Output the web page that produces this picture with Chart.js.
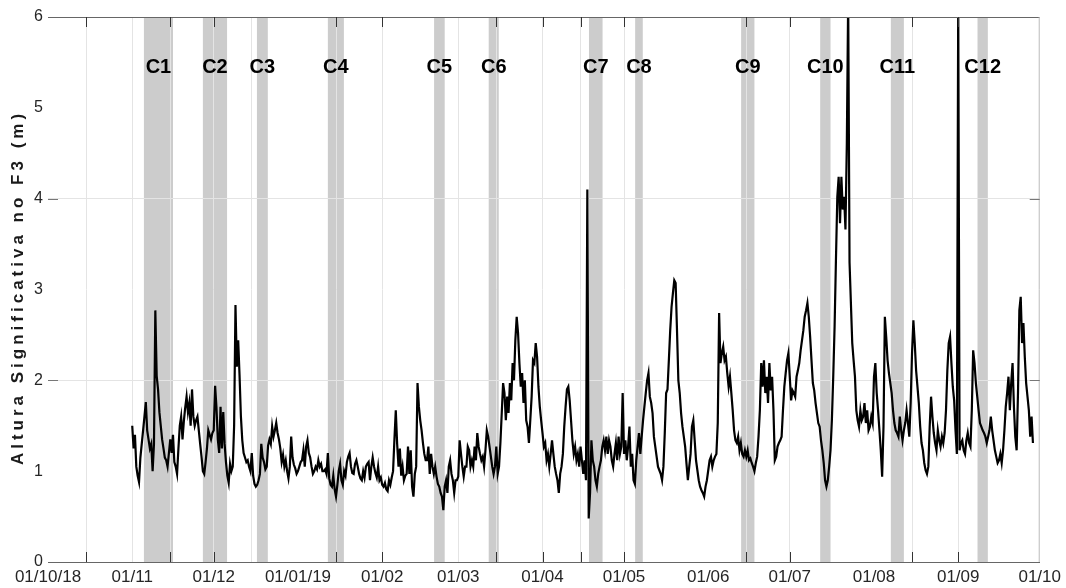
<!DOCTYPE html>
<html>
<head>
<meta charset="utf-8">
<script src="https://cdn.jsdelivr.net/npm/chart.js@4.4.1/dist/chart.umd.min.js"></script>
<style>
  html, body { margin: 0; padding: 0; background: #fff; }
  #chart { display: block; background: #fff; }
</style>
</head>
<body>
<canvas id="chart" width="1066" height="588"></canvas>
<script>
// x axis = days since 01/10/2018
const monthDays = [0, 31, 61, 92, 123, 151, 182, 212, 243, 273, 304, 335, 365];
const monthLabels = ['01/10/18', '01/11', '01/12', '01/01/19', '01/02', '01/03', '01/04', '01/05', '01/06', '01/07', '01/08', '01/09', '01/10'];
const gridDays = [14, 31, 45, 61, 75, 106, 123, 151, 165, 182, 196, 212, 257, 273, 318, 335];
const tickDays = [14, 45, 61, 106, 123, 165, 182, 196, 212, 257, 273, 318, 335];
const yTicks = [0, 1, 2, 3, 4, 5, 6];
const yGrid = [2, 4];
const yTitle = 'Altura Significativa no F3 (m)';

// shaded periods C1..C12 (days)
const bandLabels = ['C1', 'C2', 'C3', 'C4', 'C5', 'C6', 'C7', 'C8', 'C9', 'C10', 'C11', 'C12'];
const bandStart = [35.3, 57.0, 76.9, 103.0, 142.1, 162.2, 199.1, 216.1, 255.1, 284.2, 310.2, 342.1];
const bandEnd = [46.0, 65.9, 80.9, 108.9, 146.0, 165.9, 204.1, 218.9, 260.0, 288.0, 315.0, 345.9];

// Hs (m), one value every 12 h, per month
const nov = [1.5, 1.25, 1.4, 1.05, 0.95, 0.88, 1.15, 1.3, 1.45, 1.6,
  1.76, 1.45, 1.35, 1.25, 1.3, 1.0, 1.3, 2.77, 2.05, 1.9,
  1.65, 1.5, 1.35, 1.25, 1.15, 1.12, 1.05, 1.2, 1.35, 1.2,
  1.4, 1.1, 1.05, 0.97, 1.25, 1.5, 1.6, 1.35, 1.55, 1.7,
  1.82, 1.65, 1.75, 1.5, 1.9, 1.6, 1.5, 1.56, 1.6, 1.45,
  1.3, 1.16, 1.0, 0.97, 1.1, 1.25, 1.45, 1.4, 1.35, 1.42];
const dec = [1.45, 1.94, 1.7, 1.35, 1.2, 1.71, 1.25, 1.65, 1.3, 1.1,
  0.95, 0.87, 1.08, 1.0, 1.05, 1.5, 2.83, 2.15, 2.44, 2.05,
  1.6, 1.34, 1.2, 1.15, 1.1, 1.12, 1.05, 1.0, 1.2, 0.95,
  0.86, 0.83, 0.85, 0.9, 0.97, 1.3, 1.15, 1.1, 1.02, 1.05,
  1.28, 1.35, 1.3, 1.49, 1.38, 1.45, 1.53, 1.42, 1.35, 1.25,
  1.1, 1.18, 1.05, 1.12, 1.0, 0.92, 1.05, 1.38, 1.15, 1.07,
  1.03, 0.97];
const jan = [1.0, 1.05, 1.1, 1.12, 1.23, 1.05, 1.27, 1.34, 1.2, 1.15,
  1.05, 0.97, 1.0, 1.05, 1.02, 1.12, 1.05, 1.08, 1.0, 1.0,
  1.02, 0.97, 1.2, 0.92, 0.85, 0.83, 0.95, 0.8, 0.72, 0.85,
  1.0, 1.08, 0.9, 0.85, 1.0, 0.95, 1.1, 1.16, 1.2, 1.05,
  0.98, 0.97, 1.08, 1.12, 1.05, 0.97, 0.92, 0.9, 1.0, 0.93,
  1.05, 1.08, 1.1, 0.9, 1.05, 1.15, 1.05, 0.98, 0.93, 1.05,
  0.9, 0.93];
const feb = [0.85, 0.83, 0.87, 0.8, 0.78, 0.9, 0.85, 0.93, 1.0, 1.35,
  1.67, 1.3, 1.05, 1.25, 0.95, 1.05, 0.9, 0.95, 0.97, 1.27,
  0.97, 1.23, 0.83, 0.72, 0.97, 1.05, 1.97, 1.71, 1.56, 1.45,
  1.31, 1.19, 1.12, 1.12, 1.27, 0.97, 1.19, 1.05, 0.97, 1.05,
  0.94, 0.86, 0.83, 0.76, 0.72, 0.57, 0.83, 0.9, 0.76, 1.05,
  1.12, 0.97, 0.9, 0.76, 0.9, 0.9];
const mar = [0.94, 1.34, 1.19, 1.05, 0.94, 1.05, 1.05, 1.27, 1.23, 1.05,
  1.12, 1.05, 1.27, 1.12, 1.42, 1.27, 1.19, 1.12, 1.16, 1.05,
  1.23, 1.45, 1.38, 1.27, 1.16, 1.05, 0.97, 1.05, 1.27, 0.97,
  1.05, 1.31, 1.64, 1.97, 1.86, 1.56, 1.82, 1.64, 1.97, 1.78,
  2.19, 2.0, 2.44, 2.7, 2.52, 2.19, 1.93, 2.08, 1.75, 2.0,
  1.56, 1.49, 1.31, 1.56, 1.82, 2.22, 2.19, 2.41, 2.26, 1.93,
  1.71, 1.56];
const apr = [1.42, 1.27, 1.31, 1.12, 1.19, 1.05, 1.19, 1.34, 1.19, 1.05,
  0.97, 0.9, 0.76, 0.97, 1.05, 1.19, 1.49, 1.71, 1.9, 1.93,
  1.78, 1.56, 1.34, 1.19, 1.27, 1.12, 1.19, 1.05, 1.27, 1.12,
  0.97, 1.12, 0.9, 4.1, 0.48, 0.76, 1.34, 1.12, 1.05, 0.9,
  0.83, 0.97, 1.05, 1.12, 1.27, 1.34, 1.23, 1.38, 1.19, 1.34,
  1.27, 1.12, 1.05, 1.19, 1.31, 1.12, 1.38, 1.19, 1.27, 1.86];
const may = [1.19, 1.34, 1.12, 1.27, 1.49, 1.05, 1.19, 0.9, 0.86, 1.12,
  1.27, 1.42, 1.19, 1.38, 1.56, 1.71, 1.86, 2.0, 2.08, 1.82,
  1.75, 1.64, 1.38, 1.27, 1.16, 1.05, 1.01, 0.97, 0.9, 1.05,
  1.42, 1.86, 1.9, 2.22, 2.55, 2.81, 2.96, 3.1, 3.07, 2.55,
  2.0, 1.86, 1.64, 1.49, 1.38, 1.27, 1.08, 0.9, 1.05, 1.19,
  1.49, 1.56, 1.34, 1.12, 1.01, 0.9, 0.83, 0.79, 0.76, 0.72,
  0.83, 0.9];
const jun = [1.01, 1.12, 1.16, 1.05, 1.12, 1.16, 1.19, 1.53, 2.74, 2.19,
  2.3, 2.37, 2.22, 2.26, 2.08, 1.93, 2.04, 1.86, 1.67, 1.45,
  1.34, 1.31, 1.38, 1.23, 1.31, 1.19, 1.16, 1.23, 1.16, 1.23,
  1.12, 1.14, 1.09, 1.05, 1.0, 1.09, 1.16, 1.38, 1.67, 2.19,
  1.93, 2.22, 1.86, 2.04, 1.75, 2.19, 1.89, 2.04, 1.67, 1.12,
  1.16, 1.27, 1.31, 1.34, 1.38, 1.67, 1.93, 2.08, 2.22, 2.3];
const jul = [2.04, 1.78, 1.89, 1.86, 1.82, 2.04, 2.11, 2.19, 2.33, 2.44,
  2.55, 2.7, 2.77, 2.85, 2.7, 2.48, 2.22, 1.97, 1.89, 1.75,
  1.64, 1.53, 1.49, 1.34, 1.23, 1.09, 0.9, 0.83, 0.9, 1.05,
  1.23, 1.56, 2.04, 2.59, 3.33, 4.02, 4.24, 3.73, 4.24, 3.88,
  4.02, 3.66, 4.6, 6.2, 3.3, 2.85, 2.41, 2.22, 2.04, 1.67,
  1.56, 1.49, 1.67, 1.56, 1.6, 1.75, 1.53, 1.67, 1.45, 1.49,
  1.6, 1.53];
const aug = [2.04, 2.19, 1.86, 1.67, 1.45, 1.23, 0.94, 1.49, 2.7, 2.48,
  2.22, 2.08, 1.97, 1.86, 1.67, 1.53, 1.45, 1.42, 1.38, 1.6,
  1.45, 1.34, 1.45, 1.53, 1.67, 1.53, 1.38, 1.75, 2.3, 2.66,
  2.41, 2.11, 1.93, 1.75, 1.49, 1.31, 1.23, 1.09, 1.01, 0.97,
  1.05, 1.49, 1.82, 1.6, 1.42, 1.31, 1.23, 1.45, 1.34, 1.27,
  1.38, 1.31, 1.42, 1.67, 2.11, 2.41, 2.48, 2.19, 1.93, 1.78,
  1.45, 1.19];
const sep = [6.2, 1.23, 1.31, 1.34, 1.23, 1.19, 1.34, 1.42, 1.31, 1.27,
  1.67, 2.33, 2.19, 1.97, 1.82, 1.67, 1.53, 1.49, 1.45, 1.42,
  1.38, 1.31, 1.38, 1.45, 1.6, 1.45, 1.34, 1.23, 1.16, 1.09,
  1.12, 1.19, 1.09, 1.23, 1.45, 1.71, 1.86, 2.04, 1.67, 1.97,
  2.19, 1.71, 1.38, 1.23, 1.86, 2.77, 2.92, 2.41, 2.63, 2.26,
  1.97, 1.82, 1.67, 1.38, 1.6, 1.31];

const months = [nov, dec, jan, feb, mar, apr, may, jun, jul, aug, sep];
const monthStart = [31, 61, 92, 123, 151, 182, 212, 243, 273, 304, 335];

const points = [];
months.forEach((vals, m) => {
  vals.forEach((v, i) => points.push({ x: monthStart[m] + i * 0.5, y: v }));
});

const FONT = "'Liberation Sans', Arial, Helvetica, sans-serif";

const decorations = {
  id: 'decorations',
  beforeDraw(chart) {
    const { ctx, chartArea, scales } = chart;
    ctx.save();
    ctx.fillStyle = '#cccccc';
    for (let i = 0; i < bandStart.length; i++) {
      const x1 = scales.x.getPixelForValue(bandStart[i]);
      const x2 = scales.x.getPixelForValue(bandEnd[i]);
      ctx.fillRect(x1, chartArea.top, x2 - x1, chartArea.bottom - chartArea.top);
    }
    ctx.restore();
  },
  afterDatasetsDraw(chart) {
    const { ctx, chartArea, scales } = chart;
    const { left, right, top, bottom } = chartArea;
    ctx.save();
    // band names
    ctx.fillStyle = '#000';
    ctx.font = 'bold 20px ' + FONT;
    ctx.textAlign = 'center';
    ctx.textBaseline = 'middle';
    const ly = scales.y.getPixelForValue(5.44);
    for (let i = 0; i < bandLabels.length; i++) {
      const xm = scales.x.getPixelForValue((bandStart[i] + bandEnd[i]) / 2);
      ctx.fillText(bandLabels[i], xm, ly);
    }
    // box: top and right
    ctx.lineWidth = 1;
    ctx.strokeStyle = '#666';
    ctx.beginPath();
    ctx.moveTo(left, top + 0.5);
    ctx.lineTo(right, top + 0.5);
    ctx.stroke();
    ctx.strokeStyle = '#bbb';
    ctx.beginPath();
    ctx.moveTo(right - 0.5, top);
    ctx.lineTo(right - 0.5, bottom);
    ctx.stroke();
    // inward tick marks
    ctx.strokeStyle = '#333';
    tickDays.forEach(d => {
      const x = Math.round(scales.x.getPixelForValue(d)) + 0.5;
      ctx.beginPath();
      ctx.moveTo(x, bottom);
      ctx.lineTo(x, bottom - 10);
      ctx.moveTo(x, top);
      ctx.lineTo(x, top + 10);
      ctx.stroke();
    });
    ctx.strokeStyle = '#777';
    yGrid.forEach(v => {
      const y = Math.round(scales.y.getPixelForValue(v)) + 0.5;
      ctx.beginPath();
      ctx.moveTo(left, y);
      ctx.lineTo(left + 10, y);
      ctx.moveTo(right, y);
      ctx.lineTo(right - 10, y);
      ctx.stroke();
    });
    // y axis title (rotated, spaced like the original export)
    ctx.translate(18, (top + bottom) / 2);
    ctx.rotate(-Math.PI / 2);
    ctx.font = 'bold 17px ' + FONT;
    ctx.letterSpacing = '4px';
    ctx.fillStyle = '#1a1a1a';
    ctx.fillText(yTitle, 2, 0);
    ctx.restore();
  }
};

new Chart(document.getElementById('chart'), {
  type: 'line',
  data: {
    datasets: [{
      data: points,
      borderColor: '#000',
      borderWidth: 2.2,
      pointRadius: 0,
      tension: 0,
      fill: false
    }]
  },
  options: {
    responsive: false,
    animation: false,
    devicePixelRatio: 1,
    layout: { padding: { top: 17, right: 26, left: 0, bottom: 0 } },
    plugins: { legend: { display: false }, tooltip: { enabled: false } },
    scales: {
      x: {
        type: 'linear',
        min: 0,
        max: 365,
        position: 'bottom',
        afterBuildTicks: s => { s.ticks = monthDays.map(v => ({ value: v })); },
        afterFit: s => { s.height = 26; },
        ticks: {
          autoSkip: false,
          maxRotation: 0,
          padding: 5,
          color: '#262626',
          font: { family: FONT, size: 17 },
          callback: v => monthLabels[monthDays.indexOf(v)]
        },
        grid: { display: false, drawTicks: false },
        border: { color: '#666', width: 1 }
      },
      xg: {
        type: 'linear',
        min: 0,
        max: 365,
        position: 'bottom',
        afterBuildTicks: s => { s.ticks = gridDays.map(v => ({ value: v })); },
        afterFit: s => { s.height = 0; },
        ticks: { display: false },
        grid: { color: '#e4e4e4', drawTicks: false },
        border: { display: false }
      },
      y: {
        min: 0,
        max: 6,
        afterBuildTicks: s => { s.ticks = yTicks.map(v => ({ value: v })); },
        afterFit: s => { s.width = 48; },
        ticks: {
          padding: 5,
          color: '#262626',
          font: { family: FONT, size: 16 }
        },
        grid: {
          drawTicks: false,
          color: c => (c.tick && yGrid.includes(c.tick.value)) ? '#e4e4e4' : 'rgba(0,0,0,0)'
        },
        border: { display: false }
      }
    }
  },
  plugins: [decorations]
});
</script>
</body>
</html>
